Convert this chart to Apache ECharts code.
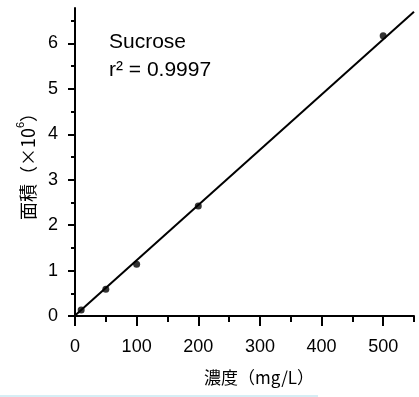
<!DOCTYPE html>
<html>
<head>
<meta charset="utf-8">
<script src="https://cdn.jsdelivr.net/npm/echarts@6/dist/echarts.min.js"></script>
<style>
  html, body { margin: 0; padding: 0; background: #fff; }
  #chart { width: 419px; height: 397px; }
</style>
</head>
<body>
<div id="chart"></div>
<script>
// measured points (concentration mg/L, area x10^6)
const concX = [10, 50, 100, 200, 500]
const areaY = [0.13, 0.59, 1.14, 2.42, 6.17]
// regression line end points
const fitX = [0, 550]
const fitY = [0.01, 6.70]

const xTicks = [0, 100, 200, 300, 400, 500]
const xMinorTicks = [50, 150, 250, 350, 450, 550]
const yTicks = [0, 1, 2, 3, 4, 5, 6]
const yMinorTicks = [0.5, 1.5, 2.5, 3.5, 4.5, 5.5, 6.5]

const compound = 'Sucrose'
const r2Text = 'r² = 0.9997'

const chart = echarts.init(document.getElementById('chart'))

const axisLine = { show: true, lineStyle: { color: '#000', width: 2 } }
const labelFont = { color: '#000', fontSize: 18, fontFamily: 'Liberation Sans' }

const option = {
  animation: false,
  grid: { left: 75, right: 5, top: 8, bottom: 81 },
  xAxis: [
    {
      type: 'value',
      min: 0,
      max: 550,
      interval: 100,
      name: '濃度（mg/L）',
      nameLocation: 'middle',
      nameGap: 53,
      nameTextStyle: {
        color: '#000',
        fontSize: 17,
        fontFamily: 'Noto Sans CJK JP',
        padding: [0, 0, 0, 29],
      },
      axisLine,
      axisTick: {
        customValues: xTicks,
        length: 10,
        lineStyle: { color: '#000', width: 2 },
      },
      axisLabel: { ...labelFont, customValues: xTicks, margin: 22 },
      splitLine: { show: false },
    },
    {
      type: 'value',
      position: 'bottom',
      min: 0,
      max: 550,
      axisLine: { show: false },
      axisTick: {
        customValues: xMinorTicks,
        length: 6,
        lineStyle: { color: '#000', width: 2 },
      },
      axisLabel: { show: false },
      splitLine: { show: false },
    },
  ],
  yAxis: [
    {
      type: 'value',
      min: 0,
      max: 6.78,
      interval: 1,
      name: '{t|面積（×10}{s|6}{t|）}',
      nameLocation: 'middle',
      nameGap: 38,
      nameTextStyle: {
        color: '#000',
        fontFamily: 'Noto Sans CJK JP',
        rich: {
          t: { fontSize: 18, fontFamily: 'Noto Sans CJK JP', color: '#000', lineHeight: 22, verticalAlign: 'bottom' },
          s: { fontSize: 11, fontFamily: 'Liberation Sans', color: '#000', lineHeight: 22, verticalAlign: 'top' },
        },
      },
      axisLine,
      axisTick: {
        customValues: yTicks,
        length: 7,
        lineStyle: { color: '#000', width: 2 },
      },
      axisLabel: { ...labelFont, customValues: yTicks, margin: 17 },
      splitLine: { show: false },
    },
    {
      type: 'value',
      position: 'left',
      min: 0,
      max: 6.78,
      axisLine: { show: false },
      axisTick: {
        customValues: yMinorTicks,
        length: 4,
        lineStyle: { color: '#000', width: 2 },
      },
      axisLabel: { show: false },
      splitLine: { show: false },
    },
  ],
  graphic: [
    {
      type: 'text',
      left: 109,
      top: 32,
      style: { text: compound, fill: '#000', fontSize: 21, fontFamily: 'Liberation Sans' },
    },
    {
      type: 'text',
      left: 109,
      top: 60,
      style: { text: r2Text, fill: '#000', fontSize: 21, fontFamily: 'Liberation Sans' },
    },
    {
      // faint rule along the bottom edge of the picture
      type: 'line',
      shape: { x1: 0, y1: 396, x2: 318, y2: 396 },
      style: { stroke: '#d6eef5', lineWidth: 2 },
    },
  ],
  series: [
    {
      type: 'line',
      xAxisIndex: 0,
      yAxisIndex: 0,
      showSymbol: false,
      lineStyle: { color: '#000', width: 2 },
      data: fitX.map((x, i) => [x, fitY[i]]),
    },
    {
      type: 'scatter',
      xAxisIndex: 0,
      yAxisIndex: 0,
      symbolSize: 7,
      itemStyle: { color: '#000' },
      data: concX.map((x, i) => [x, areaY[i]]),
    },
  ],
}

chart.setOption(option)
</script>
</body>
</html>
